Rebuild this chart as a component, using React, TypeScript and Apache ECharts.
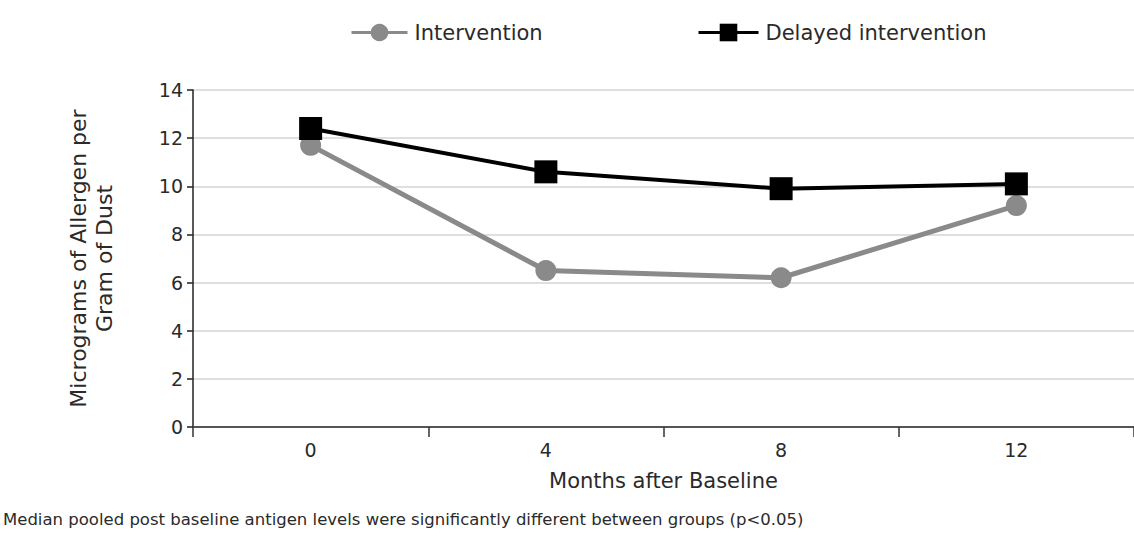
import React, { useEffect, useRef } from "react";
import * as echarts from "echarts";

const months = ["0", "4", "8", "12"];
const intervention = [11.7, 6.5, 6.2, 9.2];
const delayed = [12.4, 10.6, 9.9, 10.1];
const yTicks = { min: 0, max: 14, interval: 2 };
const seriesNames = ["Intervention", "Delayed intervention"];
const xTitle = "Months after Baseline";
const yTitle = "Micrograms of Allergen per\nGram of Dust";
const footnote =
  "Median pooled post baseline antigen levels were significantly different between groups (p<0.05)";

const FONT = "DejaVu Sans";
const TEXT = "#2a2a2a";
const GRAY = "#8a8a8a";

export default function App() {
  const ref = useRef<HTMLDivElement>(null);
  useEffect(() => {
    if (!ref.current) return;
    const chart = echarts.init(ref.current, null, { renderer: "svg" });
    const legendText = { fontFamily: FONT, fontSize: 21, color: TEXT, padding: [0, 0, 0, 2] };
    chart.setOption({
      animation: false,
      backgroundColor: "#ffffff",
      textStyle: { fontFamily: FONT, color: TEXT },
      legend: [
        {
          left: 345,
          top: 17,
          itemWidth: 56,
          itemHeight: 22,
          lineStyle: { width: 3 },
          textStyle: legendText,
          data: [seriesNames[0]],
        },
        {
          left: 692,
          top: 17,
          itemWidth: 60,
          itemHeight: 22,
          lineStyle: { width: 3 },
          textStyle: legendText,
          data: [seriesNames[1]],
        },
      ],
      grid: { left: 193, top: 90, width: 947, height: 337 },
      xAxis: {
        type: "category",
        data: months,
        boundaryGap: true,
        name: xTitle,
        nameLocation: "middle",
        nameGap: 43,
        nameTextStyle: { fontFamily: FONT, fontSize: 21, color: TEXT },
        axisLine: { lineStyle: { color: "#555", width: 2 } },
        axisTick: { show: true, length: 10, inside: false, lineStyle: { color: "#333", width: 1.5 } },
        axisLabel: { fontFamily: FONT, fontSize: 19, color: TEXT, margin: 13 },
        splitLine: { show: false },
      },
      yAxis: {
        type: "value",
        min: yTicks.min,
        max: yTicks.max,
        interval: yTicks.interval,
        name: yTitle,
        nameLocation: "middle",
        nameGap: 76,
        nameTextStyle: { fontFamily: FONT, fontSize: 22, color: TEXT, lineHeight: 26, align: "center" },
        axisLine: { show: true, lineStyle: { color: "#222", width: 1.5 } },
        axisTick: { show: true, length: 6, lineStyle: { color: "#222", width: 1.5 } },
        axisLabel: { fontFamily: FONT, fontSize: 19, color: TEXT, margin: 10 },
        splitLine: { show: true, lineStyle: { color: "#d4d4d4", width: 1.5 } },
      },
      series: [
        {
          name: seriesNames[0],
          type: "line",
          data: intervention,
          symbol: "circle",
          symbolSize: 21,
          lineStyle: { color: GRAY, width: 5 },
          itemStyle: { color: GRAY },
          z: 2,
        },
        {
          name: seriesNames[1],
          type: "line",
          data: delayed,
          symbol: "rect",
          symbolSize: 23,
          lineStyle: { color: "#000000", width: 4 },
          itemStyle: { color: "#000000" },
          z: 3,
        },
      ],
      graphic: [
        {
          type: "text",
          left: 3,
          top: 511,
          style: { text: footnote, fontFamily: FONT, fontSize: 16.5, fill: TEXT },
        },
      ],
    });
    return () => chart.dispose();
  }, []);
  return (
    <div
      ref={ref}
      style={{ position: "fixed", left: 0, top: 0, width: 1134, height: 542 }}
    />
  );
}
